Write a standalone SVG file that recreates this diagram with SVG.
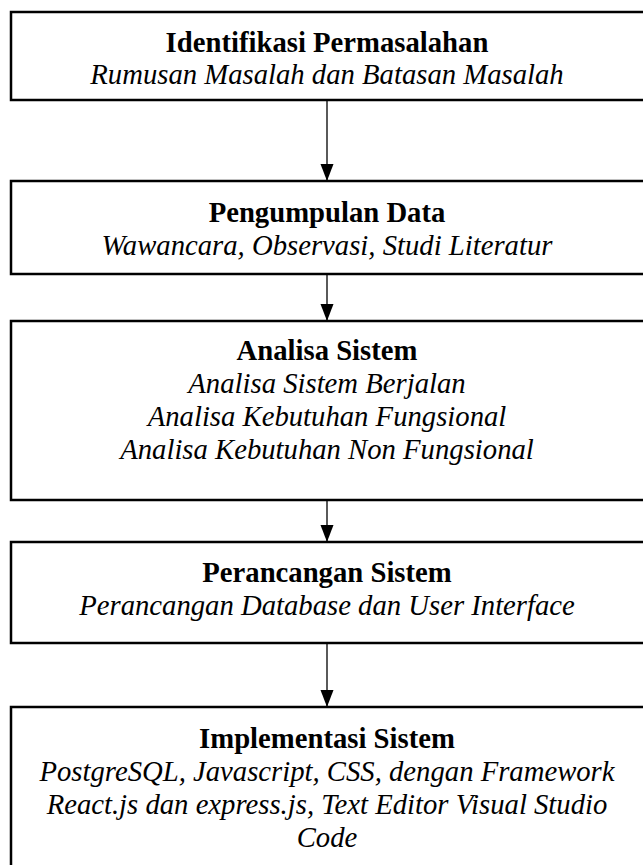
<svg xmlns="http://www.w3.org/2000/svg" width="643" height="865" viewBox="0 0 643 865">
<defs>
<style>
.box{fill:#fff;stroke:#000;stroke-width:2.5}
.t{font-family:"Liberation Serif","Times New Roman",serif;font-size:28.7px;text-anchor:middle;fill:#000}
.b{font-weight:bold}
.i{font-style:italic}
.c{stroke:#000;stroke-width:1.3;fill:none}
</style>
<marker id="ah" markerUnits="userSpaceOnUse" markerWidth="18" markerHeight="14" refX="17" refY="6.5" orient="auto">
<path d="M0,0 L17,6.5 L0,13 z" fill="#000"/>
</marker>
</defs>
<rect width="643" height="865" fill="#fff"/>
<g id="connectors">
<line class="c" x1="327" y1="100" x2="327" y2="181" marker-end="url(#ah)"/>
<line class="c" x1="327" y1="274" x2="327" y2="321" marker-end="url(#ah)"/>
<line class="c" x1="327" y1="500" x2="327" y2="542" marker-end="url(#ah)"/>
<line class="c" x1="327" y1="643" x2="327" y2="707" marker-end="url(#ah)"/>
</g>
<g id="n1">
<rect class="box" x="11" y="12" width="645" height="88"/>
<text class="t b" x="327" y="52">Identifikasi Permasalahan</text>
<text class="t i" x="327" y="84">Rumusan Masalah dan Batasan Masalah</text>
</g>
<g id="n2">
<rect class="box" x="11" y="181" width="645" height="93"/>
<text class="t b" x="327" y="222">Pengumpulan Data</text>
<text class="t i" x="327" y="255">Wawancara, Observasi, Studi Literatur</text>
</g>
<g id="n3">
<rect class="box" x="11" y="321" width="645" height="179"/>
<text class="t b" x="327" y="360">Analisa Sistem</text>
<text class="t i" x="327" y="393">Analisa Sistem Berjalan</text>
<text class="t i" x="327" y="426">Analisa Kebutuhan Fungsional</text>
<text class="t i" x="327" y="459">Analisa Kebutuhan Non Fungsional</text>
</g>
<g id="n4">
<rect class="box" x="11" y="542" width="645" height="101"/>
<text class="t b" x="327" y="582">Perancangan Sistem</text>
<text class="t i" x="327" y="615">Perancangan Database dan User Interface</text>
</g>
<g id="n5">
<rect class="box" x="11" y="707" width="645" height="170"/>
<text class="t b" x="327" y="748">Implementasi Sistem</text>
<text class="t i" x="327" y="781">PostgreSQL, Javascript, CSS, dengan Framework</text>
<text class="t i" x="327" y="814">React.js dan express.js, Text Editor Visual Studio</text>
<text class="t i" x="327" y="847">Code</text>
</g>
</svg>
